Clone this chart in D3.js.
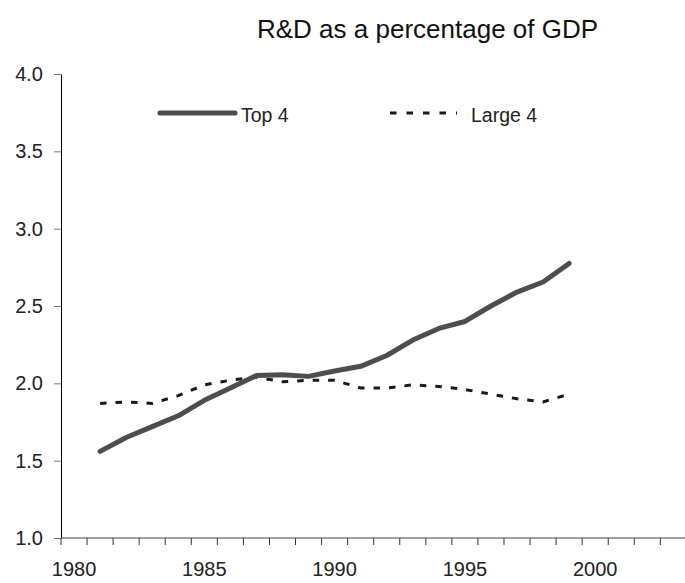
<!DOCTYPE html>
<html>
<head>
<meta charset="utf-8">
<script src="https://cdn.jsdelivr.net/npm/d3@7"></script>
<style>
  body { margin: 0; background: #fff; }
  text { font-family: "Liberation Sans", Arial, sans-serif; fill: #222; }
</style>
</head>
<body>
<div id="chart"></div>
<script>
const years = [1980, 1981, 1982, 1983, 1984, 1985, 1986, 1987, 1988, 1989, 1990, 1991,
               1992, 1993, 1994, 1995, 1996, 1997, 1998, 1999, 2000, 2001, 2002, 2003];
const labelYears = [1980, 1985, 1990, 1995, 2000];
const yTicks = [1.0, 1.5, 2.0, 2.5, 3.0, 3.5, 4.0];

const dataYears = [1981, 1982, 1983, 1984, 1985, 1986, 1987, 1988, 1989, 1990,
                   1991, 1992, 1993, 1994, 1995, 1996, 1997, 1998, 1999];
const top4 = [1.56, 1.65, 1.72, 1.79, 1.89, 1.97, 2.05, 2.055, 2.045, 2.08,
              2.11, 2.18, 2.28, 2.355, 2.40, 2.50, 2.59, 2.655, 2.775];
const large4 = [1.87, 1.88, 1.87, 1.92, 1.99, 2.02, 2.04, 2.01, 2.02, 2.02,
                1.97, 1.97, 1.99, 1.98, 1.96, 1.93, 1.90, 1.88, 1.93];

const width = 685, height = 583;
const margin = {top: 74, left: 61, bottom: 45};

const svg = d3.select("#chart")
    .append("svg")
    .attr("width", width)
    .attr("height", height);

const x = d3.scaleBand().domain(years).range([margin.left, 686.4]);
const y = d3.scaleLinear().domain([1, 4]).range([height - margin.bottom, margin.top]);
const bw = x.bandwidth();

// title
svg.append("text")
    .attr("x", 257)
    .attr("y", 38)
    .style("font-size", "26px")
    .style("fill", "#111")
    .text("R&D as a percentage of GDP");

// y axis
const yAxis = d3.axisLeft(y)
    .tickValues(yTicks)
    .tickFormat(d3.format(".1f"))
    .tickSize(7)
    .tickSizeOuter(0)
    .tickPadding(11);

const gy = svg.append("g")
    .attr("transform", "translate(" + margin.left + ",0)")
    .call(yAxis);
gy.select(".domain").attr("stroke", "#000");
gy.selectAll(".tick line").attr("stroke", "#777");
gy.selectAll(".tick text")
    .style("font-size", "20px")
    .style("font-family", "'Liberation Sans', Arial, sans-serif")
    .attr("fill", "#222");

// x axis (category style, ticks between labels)
const xAxis = d3.axisBottom(x)
    .tickSize(7)
    .tickSizeOuter(0)
    .tickPadding(17)
    .tickFormat(d => labelYears.includes(d) ? d : "");

const gx = svg.append("g")
    .attr("transform", "translate(0," + y(1) + ")")
    .call(xAxis);
gx.select(".domain").attr("stroke", "#444").attr("d", "M" + margin.left + ",0H686");
gx.selectAll(".tick line")
    .attr("x1", -bw / 2)
    .attr("x2", -bw / 2)
    .attr("stroke", "#333");
gx.selectAll(".tick text")
    .style("font-size", "20px")
    .style("font-family", "'Liberation Sans', Arial, sans-serif")
    .attr("fill", "#222");

// lines
const line = d3.line()
    .x((d, i) => x(dataYears[i]) + bw / 2)
    .y(d => y(d));

svg.append("path")
    .datum(large4)
    .attr("fill", "none")
    .attr("stroke", "#1a1a1a")
    .attr("stroke-width", 3)
    .attr("stroke-dasharray", "6.5,9")
    .attr("d", line);

svg.append("path")
    .datum(top4)
    .attr("fill", "none")
    .attr("stroke", "#4d4d4d")
    .attr("stroke-width", 5)
    .attr("stroke-linecap", "round")
    .attr("stroke-linejoin", "round")
    .attr("d", line);

// legend
const legend = svg.append("g");
legend.append("line")
    .attr("x1", 160).attr("x2", 235)
    .attr("y1", 113).attr("y2", 113)
    .attr("stroke", "#4d4d4d")
    .attr("stroke-width", 5)
    .attr("stroke-linecap", "round");
legend.append("text")
    .attr("x", 241).attr("y", 122)
    .style("font-size", "19.5px")
    .text("Top 4");
legend.append("line")
    .attr("x1", 390).attr("x2", 457)
    .attr("y1", 113).attr("y2", 113)
    .attr("stroke", "#1a1a1a")
    .attr("stroke-width", 3)
    .attr("stroke-dasharray", "6.5,10");
legend.append("text")
    .attr("x", 471).attr("y", 122)
    .style("font-size", "19.5px")
    .text("Large 4");
</script>
</body>
</html>
